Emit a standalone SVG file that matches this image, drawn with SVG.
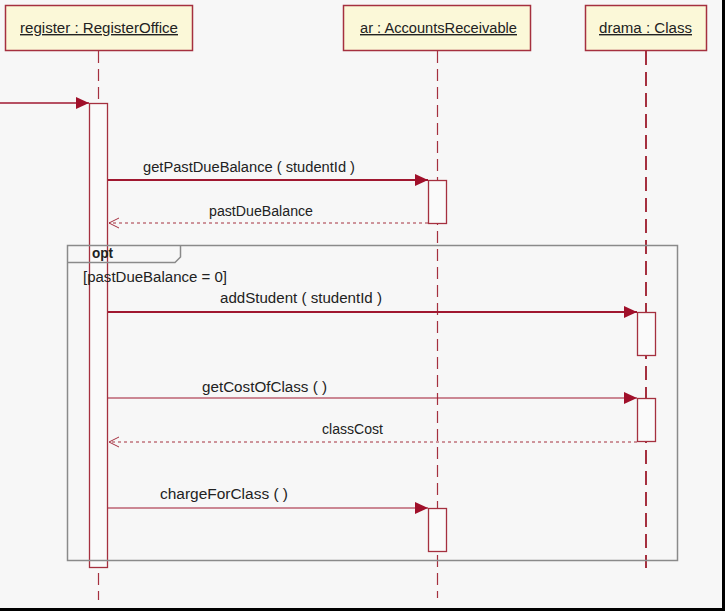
<svg xmlns="http://www.w3.org/2000/svg" width="725" height="611" viewBox="0 0 725 611">
<defs>
<style>
.hdr{fill:#fbf8d8;stroke:#a5303f;stroke-width:1.5}
.t{font-family:"Liberation Sans",Arial,sans-serif;font-size:14px;fill:#222}
.life{stroke:#a5303f;stroke-width:1.2;stroke-dasharray:12 6;fill:none}
.life2{stroke:#a5303f;stroke-width:2;stroke-dasharray:14 7;fill:none}
.act{fill:#fafafa;stroke:#a5303f;stroke-width:1.3}
.msg{stroke:#a01830;fill:none}
.ret{stroke:#a5303f;stroke-width:1;stroke-dasharray:3 3;fill:none}
.frame{fill:none;stroke:#8a8a8a;stroke-width:1.5}
</style>
<marker id="filled" markerWidth="14" markerHeight="12" refX="13" refY="6" orient="auto" markerUnits="userSpaceOnUse">
<path d="M0,0 L13,6 L0,12 z" fill="#a0102a"/>
</marker>
<marker id="open" markerWidth="12" markerHeight="12" refX="11" refY="6" orient="auto" markerUnits="userSpaceOnUse">
<path d="M1,1 L11,6 L1,11" fill="none" stroke="#a5303f" stroke-width="1"/>
</marker>
</defs>
<rect x="0" y="0" width="725" height="611" fill="#f7f7f7"/>
<line x1="0" y1="609.5" x2="725" y2="609.5" stroke="#000" stroke-width="3"/>
<line x1="723.5" y1="0" x2="723.5" y2="611" stroke="#000" stroke-width="3"/>

<g id="register">
<rect class="hdr" x="5.5" y="5.5" width="187" height="45"/>
<text class="t" x="20" y="33" textLength="158" lengthAdjust="spacingAndGlyphs" text-decoration="underline">register : RegisterOffice</text>
<line class="life" x1="98.5" y1="51" x2="98.5" y2="600"/>
<rect class="act" x="89.5" y="103.5" width="18" height="464"/>
</g>
<g id="ar">
<rect class="hdr" x="343.5" y="5.5" width="187" height="45"/>
<text class="t" x="360" y="33" textLength="157" lengthAdjust="spacingAndGlyphs" text-decoration="underline">ar : AccountsReceivable</text>
<line class="life" x1="437.5" y1="51" x2="437.5" y2="598"/>
<rect class="act" x="428.5" y="180.5" width="18" height="43"/>
<rect class="act" x="428.5" y="508.5" width="18" height="43"/>
</g>
<g id="drama">
<rect class="hdr" x="585.5" y="5.5" width="121" height="45"/>
<text class="t" x="599" y="33" textLength="93" lengthAdjust="spacingAndGlyphs" text-decoration="underline">drama : Class</text>
<line class="life2" x1="646" y1="51" x2="646" y2="568"/>
<rect class="act" x="637.5" y="312.5" width="18" height="43"/>
<rect class="act" x="637.5" y="398.5" width="18" height="43"/>
</g>

<g id="opt-frame">
<path class="frame" d="M67.5,245.5 H677.5 V560.5 H67.5 Z"/>
<path class="frame" d="M67.5,262.5 H175 L180.5,257 V245.5"/>
<text class="t" x="92" y="258" font-weight="bold" textLength="21" lengthAdjust="spacingAndGlyphs">opt</text>
<text class="t" x="83" y="282" textLength="144" lengthAdjust="spacingAndGlyphs">[pastDueBalance = 0]</text>
</g>

<g id="connectors">
<line class="msg" x1="0" y1="103" x2="89" y2="103" stroke-width="1.3" marker-end="url(#filled)"/>
<line class="msg" x1="108" y1="180" x2="428" y2="180" stroke-width="2" marker-end="url(#filled)"/>
<text class="t" x="143" y="172" textLength="212" lengthAdjust="spacingAndGlyphs">getPastDueBalance ( studentId )</text>
<line class="ret" x1="428" y1="223" x2="109" y2="223" marker-end="url(#open)"/>
<text class="t" x="209" y="216" textLength="104" lengthAdjust="spacingAndGlyphs">pastDueBalance</text>
<line class="msg" x1="108" y1="312" x2="637" y2="312" stroke-width="2" marker-end="url(#filled)"/>
<text class="t" x="220" y="303" textLength="162" lengthAdjust="spacingAndGlyphs">addStudent ( studentId )</text>
<line class="msg" x1="108" y1="398" x2="637" y2="398" stroke-width="1.2" marker-end="url(#filled)"/>
<text class="t" x="202" y="392" textLength="125" lengthAdjust="spacingAndGlyphs">getCostOfClass (  )</text>
<line class="ret" x1="637" y1="442" x2="109" y2="442" marker-end="url(#open)"/>
<text class="t" x="322" y="434" textLength="61" lengthAdjust="spacingAndGlyphs">classCost</text>
<line class="msg" x1="108" y1="508" x2="428" y2="508" stroke-width="1.2" marker-end="url(#filled)"/>
<text class="t" x="160" y="499" textLength="128" lengthAdjust="spacingAndGlyphs">chargeForClass (  )</text>
</g>
</svg>
